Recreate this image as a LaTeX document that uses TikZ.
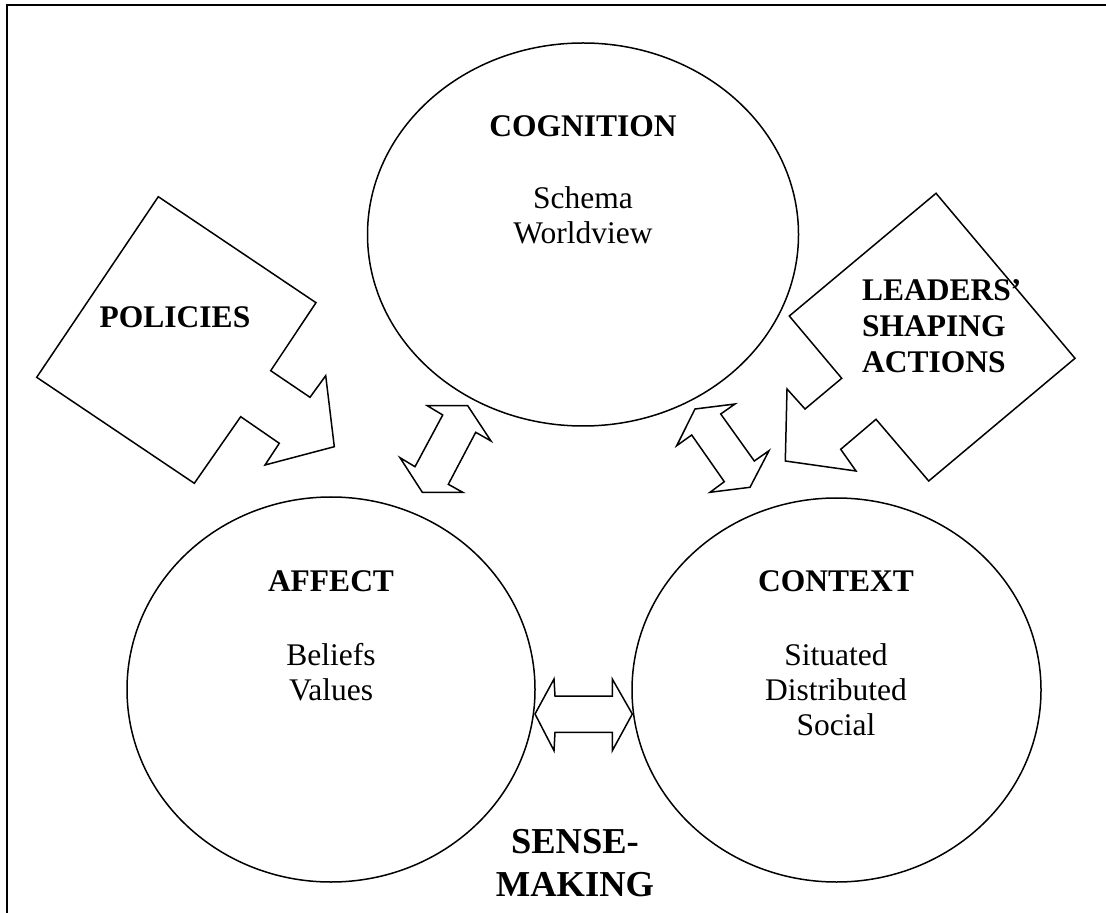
\documentclass[tikz,border=0pt]{standalone}
\usepackage{fontspec}
\setmainfont{Liberation Serif}
\usetikzlibrary{shapes.geometric}
\usetikzlibrary{positioning}

\tikzset{
  sphere/.style={ellipse, draw, line width=0.75pt, inner sep=0pt},
  heading/.style={font=\fontsize{15.75}{18}\selectfont\bfseries, anchor=base},
  items/.style={font=\fontsize{15.75}{17.5}\selectfont, anchor=base},
  blockarrow/.style={draw, line width=0.75pt, line join=miter},
}

\begin{document}
\begin{tikzpicture}[x=0.5pt, y=-0.5pt]
    \useasboundingbox (0,0) rectangle (1106,913);
    \draw[line width=1pt] (7,913) -- (7,5) -- (1106,5);
    % the three spheres
    \node[sphere, minimum width=215.5pt, minimum height=191.5pt] at (583,234.5) (cognition) {};
    \node[sphere, minimum width=204pt, minimum height=192.5pt] at (331,689.5) (affect) {};
    \node[sphere, minimum width=204.5pt, minimum height=192pt] at (836.5,690) (context) {};
    \node[heading] at (583,137) (cognitionT) {COGNITION};
    \foreach \w [count=\i] in {Schema,Worldview}
        \node[items] at (583,174+35*\i) (cog-\i) {\w};
    \node[heading] at (331,591) (affectT) {AFFECT};
    \foreach \w [count=\i] in {Beliefs,Values}
        \node[items] at (331,630+35*\i) (aff-\i) {\w};
    \node[heading] at (836,591) (contextT) {CONTEXT};
    \foreach \w [count=\i] in {Situated,Distributed,Social}
        \node[items] at (836,630+35*\i) (ctx-\i) {\w};
    % outside influences
    \draw[blockarrow] (158.3,196.7) -- (316,302.7) -- (270.7,370.7) -- (310,397.3) -- (325.7,375.7) -- (334.3,446.7) -- (265,465) -- (279.3,443.3) -- (240.7,416.7) -- (194.3,483.3) -- (36.7,377.3) -- cycle;
    \node[heading] at (175,328) (policies) {POLICIES};
    \draw[blockarrow] (936,193.3) -- (1075,358.3) -- (928.7,481) -- (876,419.3) -- (840.7,449.3) -- (856,471) -- (785.3,461) -- (787,389) -- (805,409) -- (841.7,378.3) -- (789.3,316) -- cycle;
    \foreach \w [count=\i] in {LEADERS’,SHAPING,ACTIONS}
        \node[heading, anchor=base west] at (855,264+36.3*\i) (lead-\i) {\w};
    % links between spheres
    \draw[blockarrow] (427.3,405.7) -- (467.7,405.7) -- (491,441) -- (475.7,432.3) -- (448.3,484.3) -- (462.7,492.3) -- (422.3,492.3) -- (400,457.7) -- (415,466.7) -- (442.7,415) -- cycle;
    \draw[blockarrow] (695,409) -- (735,404) -- (720.7,414) -- (754.3,461) -- (769,450.7) -- (750,487.3) -- (710,492.3) -- (724.3,481.7) -- (691.7,435) -- (676.7,445.7) -- cycle;
    \draw[blockarrow] (535,714) -- (554,679) -- (555,696) -- (612.3,696) -- (612.3,679) -- (632.3,714) -- (612.3,750.7) -- (612.3,732.3) -- (555,732.3) -- (554,750.7) -- cycle;
    \node[font=\fontsize{18.25}{21.5}\selectfont\bfseries, align=center, anchor=north] at (575,822) (sense) {SENSE-\\MAKING};
\end{tikzpicture}
\end{document}
